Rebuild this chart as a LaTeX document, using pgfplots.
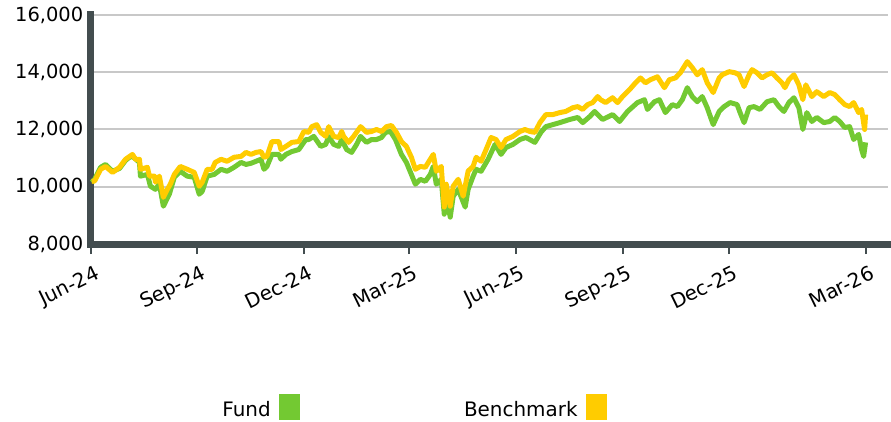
\documentclass[border=0pt]{standalone}
\usepackage{fontspec}
\setmainfont{DejaVu Sans}
\usepackage{pgfplots}
\usepackage{pgfplotstable}
\pgfplotsset{compat=1.18}
\definecolor{fundgreen}{HTML}{73C932}
\definecolor{benchyellow}{HTML}{FFCC00}
\definecolor{axisdark}{HTML}{434D4F}
\definecolor{gridgray}{HTML}{C8C8C8}

\pgfplotstableread{
x y
1 10190
4 10200
10 10610
15 10710
22 10500
29 10680
35 10960
42 11130
45 10960
49 10960
50 10610
57 10680
59 10370
64 10370
65 10160
69 10370
73 9630
77 9910
80 10090
84 10430
90 10710
97 10610
104 10500
109 10020
112 10160
117 10610
122 10610
125 10850
131 10960
137 10890
144 11030
151 11060
156 11200
161 11130
166 11200
171 11230
174 11030
177 11060
182 11580
189 11580
191 11300
196 11410
202 11550
209 11580
214 11930
219 11900
222 12100
227 12170
231 11900
236 11760
239 12100
244 11760
249 11720
252 11930
254 11760
259 11550
264 11760
271 12100
277 11900
282 11930
287 12000
292 11930
297 12100
302 12140
307 11900
312 11580
317 11410
322 11030
326 10610
331 10710
336 10680
339 10850
344 11130
347 10540
352 10710
355 9290
357 10090
361 9320
364 10020
369 10260
374 9670
379 10550
384 10710
387 11030
392 10890
397 11300
402 11720
407 11650
412 11370
417 11650
424 11760
431 11930
436 12000
441 11930
446 11900
451 12240
457 12520
464 12520
471 12590
477 12630
484 12760
489 12800
494 12700
499 12870
504 12940
509 13150
512 13040
517 12940
524 13110
529 12940
534 13150
541 13390
547 13630
552 13800
557 13630
562 13740
569 13840
576 13460
581 13740
587 13800
592 13980
599 14370
604 14160
609 13910
614 14090
619 13630
625 13290
631 13800
634 13910
641 14020
647 13980
651 13910
656 13500
661 13910
664 14090
669 13980
674 13800
679 13910
684 13980
689 13800
694 13630
697 13460
701 13740
706 13910
711 13560
715 13040
718 13560
724 13150
729 13320
736 13150
742 13290
747 13220
752 13040
757 12870
762 12800
766 12940
771 12590
774 12700
777 12000
778 12520
}\benchtable

\pgfplotstableread{
x y
1 10160
4 10260
10 10680
15 10780
22 10540
29 10640
35 10920
39 11030
42 11060
49 10850
50 10370
57 10430
60 10020
65 9910
69 10090
73 9320
79 9740
84 10330
90 10540
97 10370
104 10330
109 9740
112 9840
117 10370
124 10430
131 10610
137 10540
144 10680
151 10850
156 10780
161 10820
166 10890
171 10960
174 10610
177 10710
182 11130
189 11130
191 10960
196 11130
202 11230
209 11300
216 11650
219 11650
224 11760
231 11410
236 11480
239 11760
244 11480
249 11410
252 11650
257 11300
262 11200
267 11480
271 11760
277 11550
282 11650
287 11650
292 11720
296 11900
301 11930
306 11650
312 11130
317 10850
322 10430
326 10090
331 10260
336 10190
341 10430
344 10710
347 10090
352 10260
355 9040
357 9670
361 8940
364 9670
369 9910
376 9290
379 9910
384 10370
387 10610
392 10540
399 10960
406 11480
412 11130
417 11370
424 11480
431 11650
437 11720
446 11550
452 11900
457 12100
464 12170
471 12240
481 12350
489 12420
494 12240
501 12450
506 12630
514 12350
524 12520
531 12280
539 12630
549 12940
556 13040
559 12700
566 12970
571 13040
577 12590
584 12870
589 12800
594 13040
599 13460
604 13150
609 12970
614 13150
619 12760
625 12170
631 12630
636 12800
642 12940
649 12870
652 12590
656 12240
661 12760
666 12800
672 12700
679 12970
686 13040
691 12800
696 12630
701 12940
706 13110
711 12760
715 12000
719 12590
724 12280
729 12420
736 12240
742 12280
747 12420
752 12280
757 12070
762 12100
766 11650
771 11830
774 11300
776 11060
778 11550
}\fundtable

\begin{document}
\begin{tikzpicture}
\begin{axis}[
  scale only axis,
  width=800pt, height=230pt,
  xmin=0, xmax=800, ymin=8000, ymax=16000,
  axis x line*=bottom, axis y line*=left,
  axis line style={-, line width=7pt, color=axisdark, line cap=rect},
  ymajorgrids, grid style={line width=2pt, color=gridgray},
  xtick={0,107,214,320,427,534,641,778},
  xticklabels={Jun-24,Sep-24,Dec-24,Mar-25,Jun-25,Sep-25,Dec-25,Mar-26},
  ytick={8000,10000,12000,14000,16000},
  scaled y ticks=false,
  tick align=outside,
  xtick style={line width=2pt, color=axisdark},
  major tick length=10pt,
  ytick style={draw=none},
  /pgf/number format/.cd, 1000 sep={,}, assume math mode=true,
  /pgfplots/.cd,
  yticklabel style={font=\fontsize{19.5}{22}\selectfont, anchor=east, xshift=6pt},
  xticklabel style={font=\fontsize{20}{23}\selectfont, xshift=5pt, yshift=-6pt, rotate=26, anchor=north east},
  clip=false,
]
\addplot[fundgreen, line width=5pt, line join=round] table[x=x,y=y] {\fundtable};
\addplot[benchyellow, line width=5pt, line join=round] table[x=x,y=y] {\benchtable};
\end{axis}
\node[anchor=base east, inner sep=0pt, font=\fontsize{20}{24}\selectfont] at (181pt,-173pt) {Fund};
\fill[fundgreen] (189pt,-151pt) rectangle (210pt,-177pt);
\node[anchor=base east, inner sep=0pt, font=\fontsize{20}{24}\selectfont] at (489pt,-173pt) {Benchmark};
\fill[benchyellow] (497pt,-151pt) rectangle (518pt,-177pt);
\useasboundingbox (-91pt,-178pt) rectangle (800pt,245pt);
\end{tikzpicture}
\end{document}
